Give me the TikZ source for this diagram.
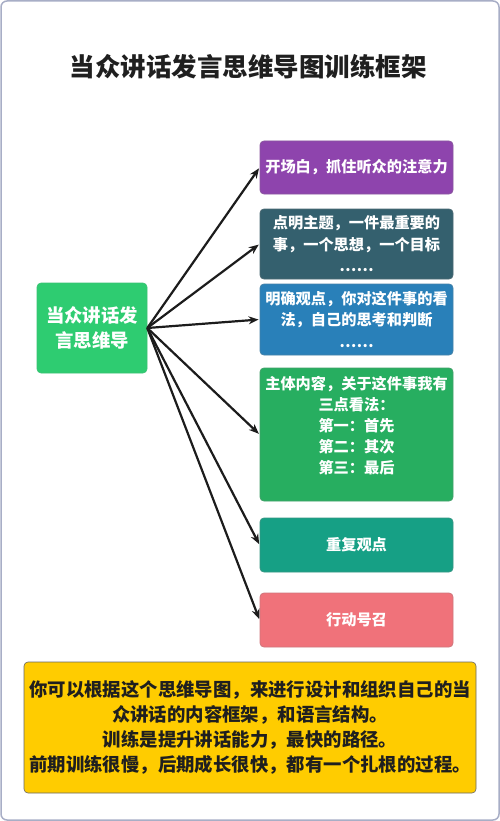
\documentclass[tikz,border=0pt]{standalone}
\usepackage{fontspec}
\setmainfont{Noto Sans CJK SC}
\usetikzlibrary{arrows.meta}
\definecolor{cmain}{HTML}{2ECC71}
\definecolor{cone}{HTML}{8E44AD}
\definecolor{ctwo}{HTML}{34606E}
\definecolor{cthree}{HTML}{2980B9}
\definecolor{cfour}{HTML}{27AE60}
\definecolor{cfive}{HTML}{16A085}
\definecolor{csix}{HTML}{F0727A}
\definecolor{cnote}{HTML}{FFCC00}
\definecolor{cframe}{HTML}{A8AEC6}
\definecolor{carrow}{HTML}{1C1C1C}
\tikzset{
  box/.style={rectangle, rounded corners=4pt, line width=0.8pt, inner sep=0pt,
    minimum width=193pt, text=white, align=center,
    font=\bfseries\fontsize{15.2}{21.5}\selectfont},
  link/.style={draw=carrow, line width=2.2pt, -{Stealth[length=10pt,width=8pt]}, shorten >=1pt}
}
\begin{document}
\begin{tikzpicture}[x=1pt,y=-1pt]
\useasboundingbox (0,0) rectangle (500,821);
\draw[cframe, line width=1.5pt, rounded corners=6pt] (1,1) rectangle (499,820);
\node[font=\bfseries\fontsize{25.5}{30}\selectfont, text=black!88] (title) at (248,67) {当众讲话发言思维导图训练框架};

\node[rectangle, rounded corners=4pt, fill=cmain, draw=cmain!85!gray, line width=0.6pt,
  minimum width=110pt, minimum height=90pt, inner sep=0pt, text=white, align=center,
  font=\bfseries\fontsize{18.4}{25}\selectfont] (root) at (92,328) {当众讲话发\\言思维导};

\node[box, fill=cone, draw=cone!70!gray, minimum height=53pt] (b1) at (356.5,167.5) {开场白，抓住听众的注意力};
\node[box, fill=ctwo, draw=ctwo!70!gray, minimum height=70pt] (b2) at (356.5,244) {点明主题，一件最重要的\\事，一个思想，一个目标\\……};
\node[box, fill=cthree, draw=cthree!70!gray, minimum height=71pt] (b3) at (356.5,319.5) {明确观点，你对这件事的看\\法，自己的思考和判断\\……};
\node[box, fill=cfour, draw=cfour!70!gray, minimum height=133pt] (b4) at (356.5,434.5) {};
\node[anchor=north, text=white, align=center, inner sep=0pt,
  font=\bfseries\fontsize{15.2}{21}\selectfont] (t4) at (356.5,376) {主体内容，关于这件事我有\\三点看法：\\第一：首先\\第二：其次\\第三：最后};
\node[box, fill=cfive, draw=cfive!70!gray, minimum height=54pt] (b5) at (356.5,545) {重复观点};
\node[box, fill=csix, draw=csix!70!gray, minimum height=54pt] (b6) at (356.5,620) {行动号召};

\node[rectangle, rounded corners=4pt, fill=cnote, draw=gray!80!black, line width=0.6pt,
  minimum width=452pt, minimum height=131pt, inner sep=0pt, text=black!88, align=center,
  font=\bfseries\fontsize{18.4}{24.7}\selectfont] (note) at (250,727.5)
  {你可以根据这个思维导图，来进行设计和组织自己的当\\众讲话的内容框架，和语言结构。\\训练是提升讲话能力，最快的路径。\\前期训练很慢，后期成长很快，都有一个扎根的过程。};

\foreach \b in {b1,b2,b3,b4,b5,b6}{
  \draw[link] (root.east) -- (\b.west);
}
\end{tikzpicture}
\end{document}
